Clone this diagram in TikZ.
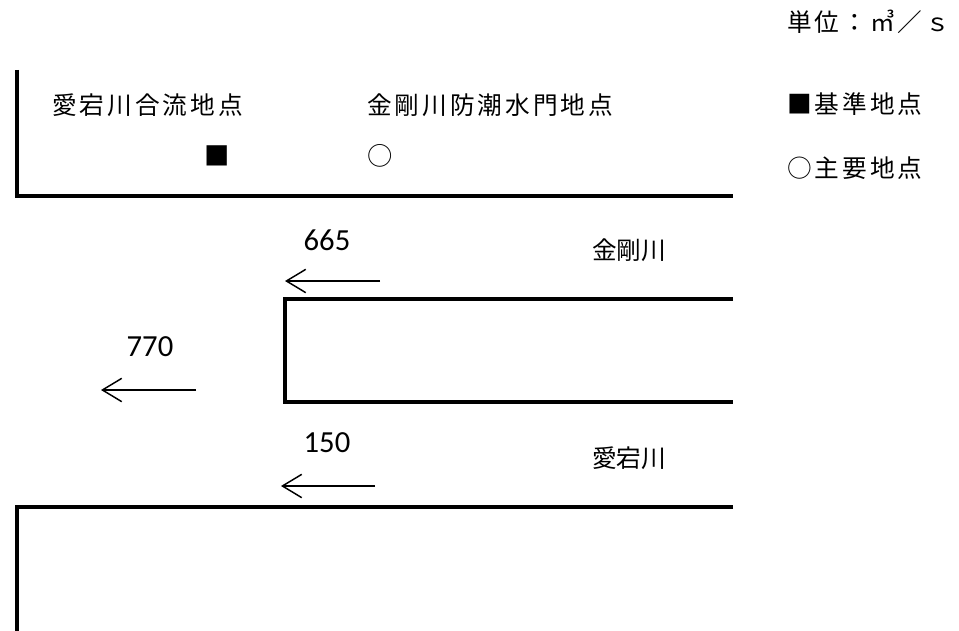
\documentclass[tikz,border=0pt]{standalone}
\usepackage{fontspec}
\setmainfont{Carlito}
\newfontfamily\jpfont{Noto Sans CJK JP}
\newfontfamily\jpwide[LetterSpace=12]{Noto Sans CJK JP}
\newfontfamily\numfont{Carlito}
\usetikzlibrary{arrows.meta, positioning}

\begin{document}
\begin{tikzpicture}[
  x=0.75pt, y=-0.75pt,
  %% Estilos: orillas, flechas de caudal, textos
  orilla/.style={line width=2.3pt},
  caudal/.style={-{Straight Barb[length=14.5pt,width=17.5pt]}, line width=1.1pt},
  rotulo/.style={font=\jpwide\fontsize{18.5}{20}\selectfont,
                 inner sep=0pt, anchor=west},
  rio/.style={font=\jpfont\fontsize{18.5}{20}\selectfont,
              inner sep=0pt, anchor=west},
  simb/.style={font=\jpfont\fontsize{19}{20}\selectfont, inner sep=0pt},
  cifra/.style={font=\numfont\fontsize{23}{26}\selectfont, inner sep=0pt}
]
\useasboundingbox (0,0) rectangle (959,631);

%% ── Unidad y leyenda ─────────────────────────────────────────────────────
\node[rotulo] (unidad) at (787,22) {単位：㎥／ｓ};
\node[rotulo] (leyBase) at (787,104) {■基準地点};
\node[rotulo] (leyPpal) at (787,168) {○主要地点};

%% ── Puntos de control ────────────────────────────────────────────────────
\node[rotulo] (ptoAtago) at (52,105) {愛宕川合流地点};
\node[rotulo] (ptoKongo) at (367,105) {金剛川防潮水門地点};
\node[simb] (simAtago) at (217,156) {■};
\node[simb] (simKongo) at (380,156) {○};

%% ── Orillas ──────────────────────────────────────────────────────────────
\draw[orilla] (17,70) |- (733,196);
\draw[orilla] (733,299) -| (285,402) -- (733,402);
\draw[orilla] (733,507) -| (17,633);

%% ── Ríos y caudales ──────────────────────────────────────────────────────
\node[rio] (rioKongo) at (592,250) {金剛川};
\node[rio] (rioAtago) at (592,458) {愛宕川};

\node[cifra] (q665) at (327,240) {665};
\node[cifra] (q770) at (150,347) {770};
\node[cifra] (q150) at (327,443) {150};

\coordinate (k0) at (380,281);  \coordinate (k1) at (285,281);
\coordinate (c0) at (196,390);  \coordinate (c1) at (101,390);
\coordinate (a0) at (375,486);  \coordinate (a1) at (281,486);

\draw[caudal] (k0) -- (k1);
\draw[caudal] (c0) -- (c1);
\draw[caudal] (a0) -- (a1);

\end{tikzpicture}
\end{document}
